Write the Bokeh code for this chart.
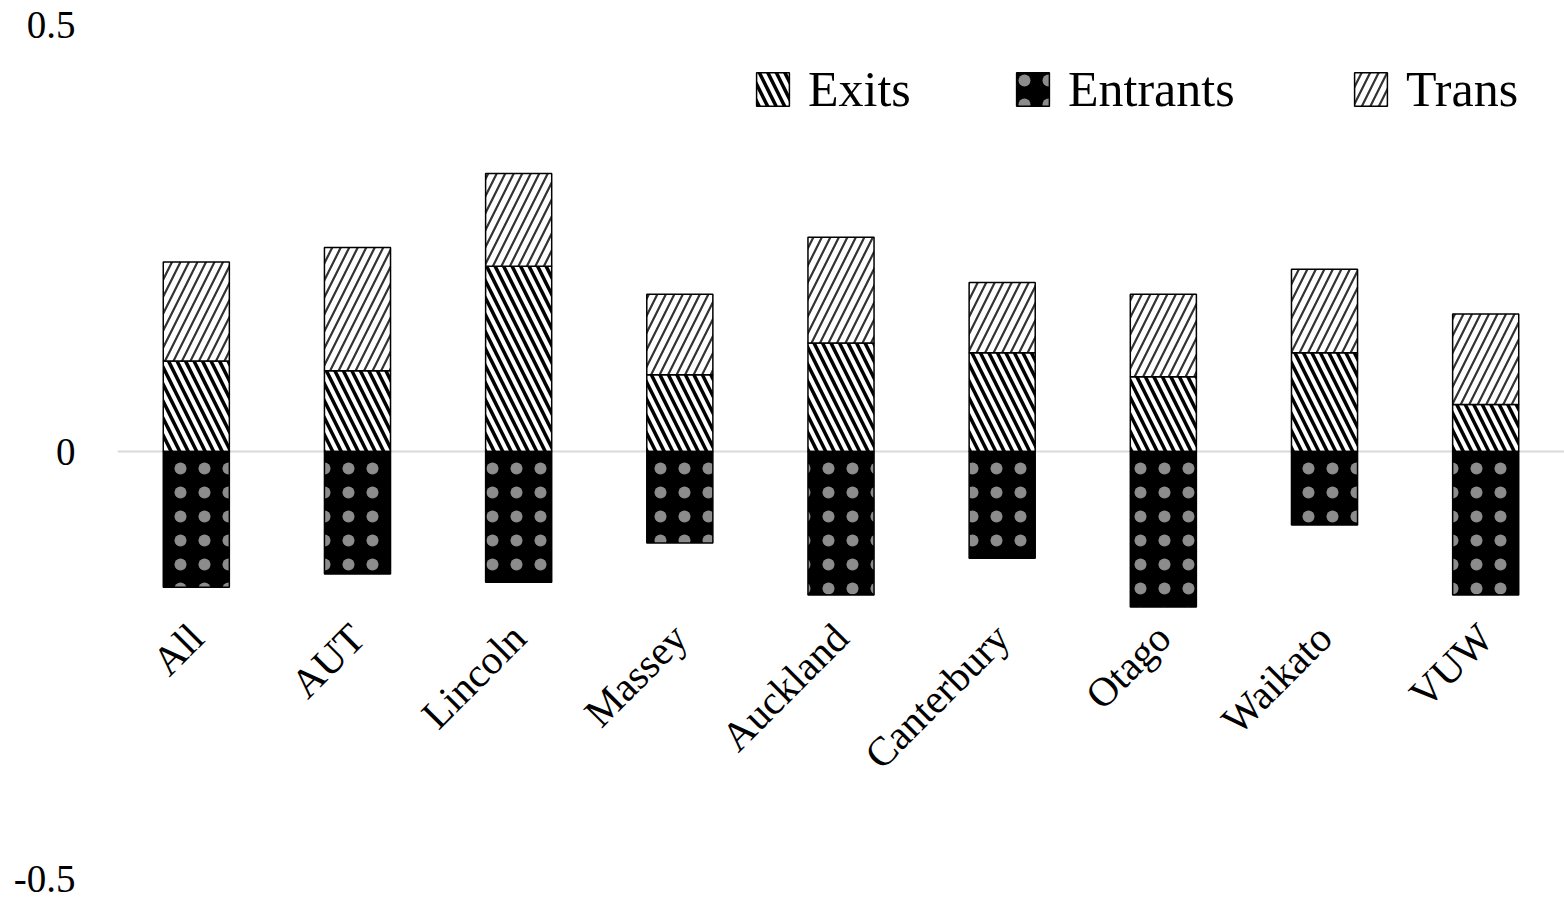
from bokeh.plotting import figure
from bokeh.models import (ColumnDataSource, FactorRange, Range1d, FixedTicker,
                          Legend, LegendItem, CustomJSTickFormatter)
from bokeh.core.properties import value
from bokeh.embed import file_html
from bokeh.resources import INLINE
import numpy as np

categories = ["All", "AUT", "Lincoln", "Massey", "Auckland", "Canterbury", "Otago", "Waikato", "VUW"]
exits = [0.106, 0.0945, 0.217, 0.090, 0.127, 0.1155, 0.0875, 0.1155, 0.055]
trans = [0.116, 0.1445, 0.1085, 0.094, 0.124, 0.0825, 0.0965, 0.098, 0.106]
entrants = [-0.159, -0.1435, -0.153, -0.107, -0.168, -0.125, -0.182, -0.086, -0.168]
y_ticks = [-0.5, 0, 0.5]

FONT = "Liberation Serif"

src = ColumnDataSource(dict(
    cat=categories,
    zero=[0.0] * len(categories),
    exits=exits,
    trans_top=[e + t for e, t in zip(exits, trans)],
    entrants=entrants,
))

p = figure(width=1564, height=902, output_backend="svg", toolbar_location=None,
           x_range=FactorRange(factors=categories, range_padding=-0.011,
                               range_padding_units="absolute"),
           y_range=Range1d(-0.5, 0.5),
           min_border_left=117, min_border_right=0, min_border_top=24, min_border_bottom=24)
p.outline_line_color = None
p.background_fill_color = "white"
p.xaxis.visible = False
p.xgrid.visible = False

p.yaxis.ticker = FixedTicker(ticks=y_ticks)
p.yaxis.formatter = CustomJSTickFormatter(code="return tick == 0 ? '0' : tick.toString();")
p.yaxis.axis_line_color = None
p.yaxis.major_tick_line_color = None
p.yaxis.minor_tick_line_color = None
p.yaxis.major_tick_out = 0
p.yaxis.major_label_standoff = 42
p.yaxis.major_label_text_font = FONT
p.yaxis.major_label_text_font_size = "39px"
p.yaxis.major_label_text_color = "black"

p.ygrid.ticker = FixedTicker(ticks=[0])
p.ygrid.grid_line_color = "#d9d9d9"
p.ygrid.grid_line_width = 2

W = 0.41
r_exits = p.vbar(x="cat", bottom="zero", top="exits", width=W, source=src,
                 fill_color="white", line_color="black", line_width=1.5,
                 hatch_pattern="left_diagonal_line", hatch_color="black",
                 hatch_scale=17, hatch_weight=3.5)
r_trans = p.vbar(x="cat", bottom="exits", top="trans_top", width=W, source=src,
                 fill_color="white", line_color="black", line_width=1.5,
                 hatch_pattern="right_diagonal_line", hatch_color="#333333",
                 hatch_scale=17, hatch_weight=2.2)
r_ent = p.vbar(x="cat", bottom="entrants", top="zero", width=W, source=src,
               fill_color="black", line_color="black", line_width=1.5,
               hatch_pattern="dot", hatch_color="white",
               hatch_scale=24, hatch_weight=0.3, hatch_alpha=0.55)

label_y = [-0.21] * len(categories)
p.text(x=categories, y=label_y, text=categories, angle=np.pi / 4,
       text_align="right", text_baseline="middle",
       text_font=value(FONT), text_font_size="41px", text_color="black")

for lab, rend, xloc in [("Exits", r_exits, 635), ("Entrants", r_ent, 895), ("Trans", r_trans, 1233)]:
    leg = Legend(items=[LegendItem(label=lab, renderers=[rend])],
                 location=(xloc, 760), orientation="horizontal",
                 label_text_font=FONT, label_text_font_size="50px",
                 label_text_color="black",
                 glyph_width=41, glyph_height=42, label_standoff=15,
                 padding=0, margin=0, spacing=0,
                 background_fill_alpha=0, border_line_alpha=0)
    p.add_layout(leg, "center")

open("out.html", "w").write(file_html(p, INLINE))
